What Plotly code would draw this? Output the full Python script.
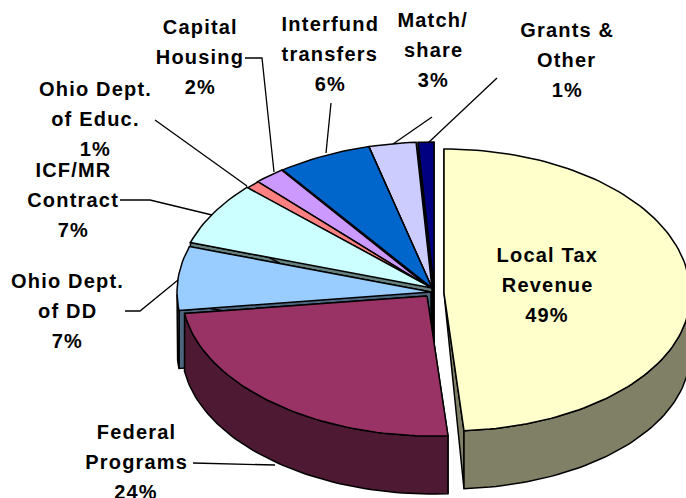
import math
import plotly.graph_objects as go

# ---- data (clockwise from 12 o'clock) ----
categories = ["Local Tax Revenue", "Federal Programs", "Ohio Dept. of DD", "ICF/MR Contract",
              "Ohio Dept. of Educ.", "Capital Housing", "Interfund transfers", "Match/share", "Grants & Other"]
values = [49, 24, 7, 7, 1, 2, 6, 3, 1]
label_lines = [["Local Tax", "Revenue", "49%"], ["Federal", "Programs", "24%"], ["Ohio Dept.", "of DD", "7%"],
               ["ICF/MR", "Contract", "7%"], ["Ohio Dept.", "of Educ.", "1%"], ["Capital", "Housing", "2%"],
               ["Interfund", "transfers", "6%"], ["Match/", "share", "3%"], ["Grants &", "Other", "1%"]]

# ---- styling / layout ----
top_colors = ["#FFFFCC", "#993366", "#99CCFF", "#CCFFFF", "#FF8080", "#CC99FF", "#0066CC", "#CCCCFF", "#000080"]
wall_colors = ["#808066", "#4D1933", "#4D6680", "#668080", "#804040", "#664D80", "#003366", "#666680", "#000040"]
# per-slice: cx, cy, rx, ry_top, ry_bottom, inner depth factor, shear
geom = [
    (444, 293, 246, 144, 138, 0, 0.033),
    (427, 296, 245, 140, 140, 1, 0.04),
    (431, 292, 254, 147, 147, 1, 0),
    (432, 288, 254, 147, 147, 1, 0),
    (432, 289, 254, 147, 147, 1, 0),
    (431, 289, 254, 147, 147, 1, 0),
    (432, 288, 254, 146, 146, 1, 0),
    (432, 288, 254, 146, 146, 1, 0),
    (434, 288, 254, 146, 146, 1, 0),
]
DEPTH = 58
draw_order = [8, 7, 6, 5, 4, 3, 2, 1, 0]
label_pos = [(547, 255), (136, 432), (67, 281), (73, 170), (95, 89), (200, 27), (330, 24), (433, 20), (567, 30)]
LINE_PITCH = 30
leaders = [
    [(193, 463), (275, 465)],
    [(125, 311), (140, 311), (178, 280)],
    [(120, 200), (150, 200), (212, 215)],
    [(155, 120), (247, 186)],
    [(245, 58), (262, 58), (274, 172)],
    [(331, 103), (326, 153)],
    [(393, 144), (432, 117)],
    [(428, 143), (497, 78)],
]

total = sum(values)
starts = [sum(values[:i]) / total * 2 * math.pi for i in range(len(values))]
ends = [sum(values[:i + 1]) / total * 2 * math.pi for i in range(len(values))]


def project(i, a):
    cx, cy, rx, ryt, ryb, _, sh = geom[i]
    c = math.cos(a)
    y = cy - (ryt if c > 0 else ryb) * c
    x = cx + rx * math.sin(a) + (sh * (y - cy) if y > cy else 0)
    return x, y


def arc(i):
    n = max(3, int(math.degrees(ends[i] - starts[i]) / 1.5))
    return [project(i, starts[i] + (ends[i] - starts[i]) * k / n) for k in range(n + 1)]


def poly(fig, pts, fill):
    fig.add_trace(go.Scatter(x=[p[0] for p in pts] + [pts[0][0]], y=[p[1] for p in pts] + [pts[0][1]],
                             mode="lines", fill="toself", fillcolor=fill,
                             line=dict(color="black", width=1.5), hoverinfo="skip", showlegend=False))


fig = go.Figure()
for i in draw_order:
    cx, cy = geom[i][:2]
    inner_f = geom[i][5]
    pts = arc(i)
    inner = (cx, cy)
    for corner in (pts[0], pts[-1]):
        poly(fig, [inner, corner, (corner[0], corner[1] + DEPTH), (cx, cy + DEPTH * inner_f)], wall_colors[i])
    front = [p for p in pts if p[1] >= cy]
    if len(front) > 1:
        poly(fig, front + [(p[0], p[1] + DEPTH) for p in reversed(front)], wall_colors[i])
    poly(fig, [inner] + pts, top_colors[i])

for seg in leaders:
    fig.add_trace(go.Scatter(x=[p[0] for p in seg], y=[p[1] for p in seg], mode="lines",
                             line=dict(color="black", width=1.3), hoverinfo="skip", showlegend=False))

for lines, (x, y) in zip(label_lines, label_pos):
    for k, t in enumerate(lines):
        fig.add_annotation(x=x, y=y + k * LINE_PITCH, text="<b>" + t + "</b>", showarrow=False,
                           xanchor="center", yanchor="middle",
                           font=dict(family="Liberation Sans", size=20, color="black"))

fig.update_layout(width=686, height=498, margin=dict(l=0, r=0, t=0, b=0), paper_bgcolor="white",
                  plot_bgcolor="white", showlegend=False,
                  xaxis=dict(range=[0, 686], visible=False, fixedrange=True),
                  yaxis=dict(range=[498, 0], visible=False, fixedrange=True))
post = ("document.body.style.margin='0';"
        "document.querySelectorAll('.annotation-text').forEach(function(t){t.style.letterSpacing='1.2px';});")
fig.write_html("out.html", config={"displayModeBar": False}, post_script=post)
